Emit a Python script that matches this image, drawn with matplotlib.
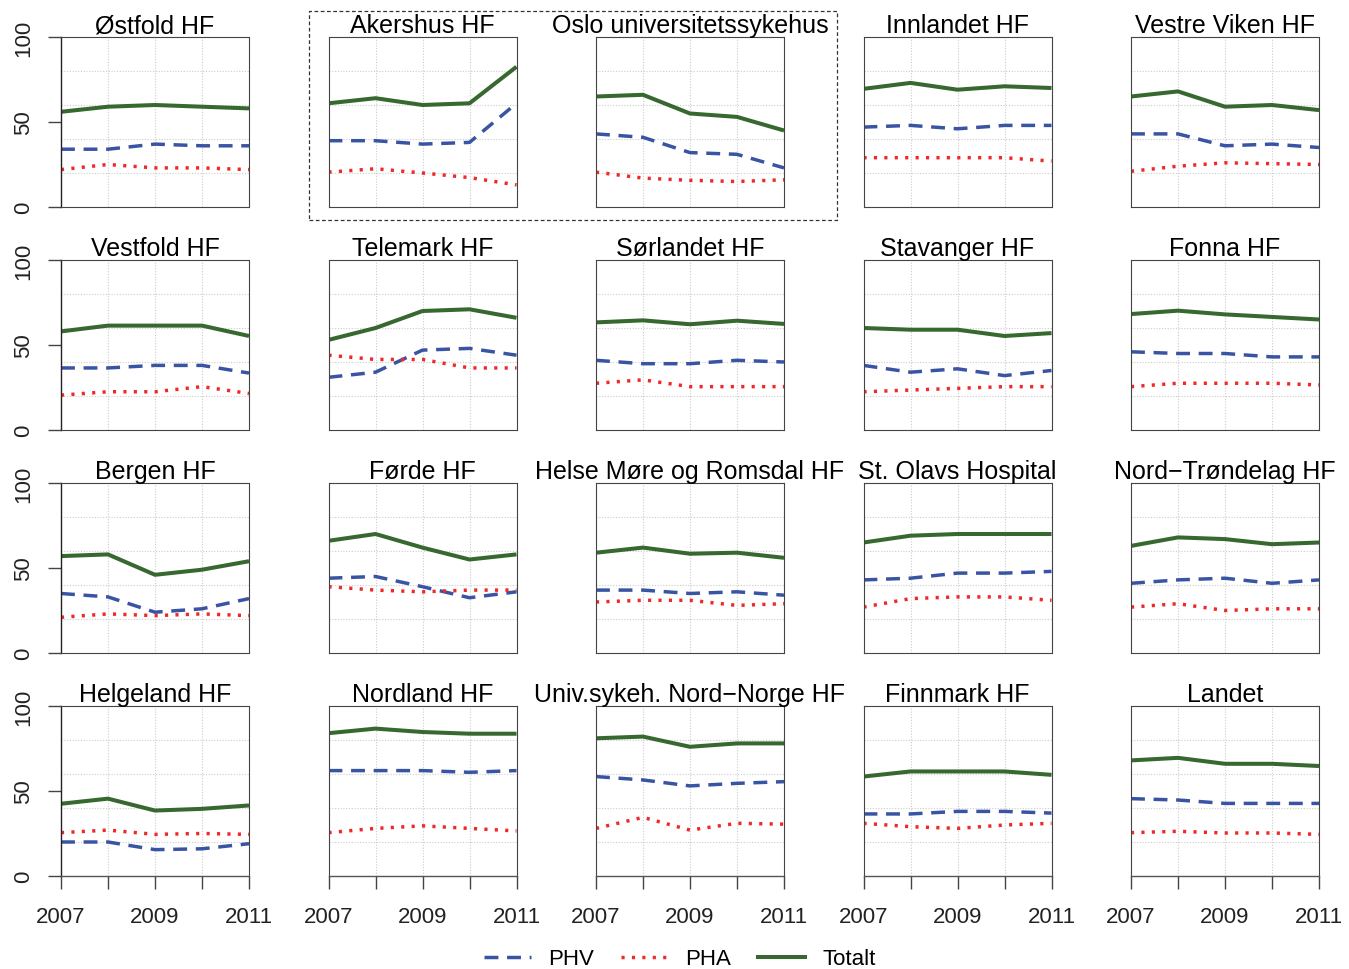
import matplotlib.pyplot as plt
from matplotlib.patches import Rectangle
from matplotlib.lines import Line2D

plt.rcParams['font.family'] = ['Liberation Sans', 'DejaVu Sans']

years = [2007, 2008, 2009, 2010, 2011]
year_labels = ['2007', '', '2009', '', '2011']

names = ['Østfold HF', 'Akershus HF', 'Oslo universitetssykehus', 'Innlandet HF', 'Vestre Viken HF',
         'Vestfold HF', 'Telemark HF', 'Sørlandet HF', 'Stavanger HF', 'Fonna HF',
         'Bergen HF', 'Førde HF', 'Helse Møre og Romsdal HF', 'St. Olavs Hospital', 'Nord−Trøndelag HF',
         'Helgeland HF', 'Nordland HF', 'Univ.sykeh. Nord−Norge HF', 'Finnmark HF', 'Landet']

phv = [[34, 34, 37, 36, 36], [39, 39, 37, 38, 61], [43, 41, 32, 31, 23], [47, 48, 46, 48, 48], [43, 43, 36, 37, 35],
       [36.5, 36.5, 38, 38, 33.5], [31, 34, 47, 48, 44], [41, 39, 39, 41, 40], [38, 34, 36, 32, 35], [46, 45, 45, 43, 43],
       [35, 33, 24, 26, 32], [44, 45, 39, 32.5, 36], [37, 37, 35, 36, 34], [43, 44, 47, 47, 48], [41, 43, 44, 41, 43],
       [20, 20, 15.5, 16, 19], [62, 62, 62, 61, 62], [58.5, 56.5, 53, 54.5, 55.5], [36.5, 36.5, 38, 38, 37], [45.5, 44.7, 42.7, 42.7, 42.7]]

pha = [[22, 25, 23, 23, 22], [20.5, 22.5, 20, 17.3, 13], [20.5, 17, 15.7, 15, 16], [29, 29, 29, 29, 27], [21, 24, 26, 25.5, 25],
       [20.5, 22.5, 22.5, 25.5, 21.5], [44, 41.5, 41.5, 36.5, 36.5], [27.5, 29.5, 25.5, 25.5, 25.5], [22.5, 23.5, 24.5, 25.5, 25.5], [25.5, 27.5, 27.5, 27.5, 26.5],
       [21, 23, 22, 23, 22], [39, 37, 36, 37, 37], [30, 31, 31, 28, 29], [27, 32, 33, 33, 31], [27, 29, 25, 26, 26],
       [25.5, 27, 24.5, 25, 24.5], [25.5, 28, 29.5, 28, 26.5], [28, 34.5, 27, 31, 30.5], [31, 29, 28, 30, 31], [25.5, 26.3, 25.3, 25.3, 24.5]]

totalt = [[56, 59, 60, 59, 58], [61, 64, 60, 61, 82.5], [65, 66, 55, 53, 45], [69.5, 73, 69, 71, 70], [65, 68, 59, 60, 57],
          [58, 61.4, 61.4, 61.4, 55.3], [53, 60, 70, 71, 66], [63.3, 64.5, 62.2, 64.3, 62.4], [60, 59, 59, 55.3, 57], [68.2, 70.2, 68, 66.5, 65],
          [57, 58, 46, 49, 54], [66, 70, 62, 55, 58], [59, 62, 58.4, 59, 56], [65, 69, 70, 70, 70], [63, 68, 67, 64, 65],
          [42.5, 45.5, 38.5, 39.5, 41.5], [84, 86.7, 84.7, 83.7, 83.7], [81, 82, 76, 78, 78], [58.5, 61.5, 61.5, 61.5, 59.5], [68, 69.5, 66, 66, 64.7]]

W, H = 1349, 970
fig = plt.figure(figsize=(W / 100, H / 100), dpi=100)

blue = '#3A54A4'
red = '#F02828'
green = '#36682F'
lw = 2.5

left0, col_step, pw = 61, 267.5, 188
top0, row_step, ph = 38, 223, 170

for i, name in enumerate(names):
    r, c = divmod(i, 5)
    x0 = left0 + c * col_step
    y0 = top0 + r * row_step
    ax = fig.add_axes([x0 / W, 1 - (y0 + ph) / H, pw / W, ph / H])
    ax.set_xlim(2007, 2011)
    ax.set_ylim(0, 100)

    for gx in [2008, 2009, 2010]:
        ax.axvline(gx, color='#cccccc', lw=0.8, ls=(0, (1, 1.5)), zorder=0)
    for gy in [20, 40, 60, 80]:
        ax.axhline(gy, color='#cccccc', lw=0.8, ls=(0, (1, 1.5)), zorder=0)

    ax.plot(years, phv[i], color=blue, lw=lw, dashes=(4, 2.5))
    ax.plot(years, pha[i], color=red, lw=lw, dashes=(0.9, 2.1))
    ax.plot(years, totalt[i], color=green, lw=lw + 0.4, solid_capstyle='butt')

    for sp in ax.spines.values():
        sp.set_linestyle((0, (1, 1)))
        sp.set_color('#444444')
        sp.set_linewidth(0.8)

    ax.set_title(name, fontsize=18, pad=3)

    if c == 0:
        ax.spines['left'].set_linestyle('-')
        ax.spines['left'].set_color('#222222')
        ax.spines['left'].set_linewidth(1.0)
        ax.set_yticks([0, 50, 100])
        ax.set_yticklabels(['0', '50', '100'], rotation=90, va='center', fontsize=16, color='#222222')
        ax.tick_params(axis='y', length=9.5, width=1.0, pad=10, color='#444444')
    else:
        ax.set_yticks([])

    if r == 3:
        ax.spines['bottom'].set_linestyle('-')
        ax.spines['bottom'].set_color('#555555')
        ax.spines['bottom'].set_linewidth(1.0)
        ax.set_xticks(years)
        ax.set_xticklabels(year_labels, fontsize=16, color='#222222')
        ax.tick_params(axis='x', length=9, width=1.0, pad=12.5, color='#444444')
    else:
        ax.set_xticks([])

# dashed frame around Akershus and Oslo
fig.patches.append(Rectangle((309 / W, 1 - 221 / H), (837 - 309) / W, (221 - 12) / H,
                             transform=fig.transFigure, fill=False, ls=(0, (3, 2)),
                             lw=0.9, edgecolor='#333333'))

handles = [Line2D([], [], color=blue, lw=lw, dashes=(4, 2.5)),
           Line2D([], [], color=red, lw=lw, dashes=(0.9, 2.1)),
           Line2D([], [], color=green, lw=lw + 0.4)]
fig.legend(handles, ['PHV', 'PHA', 'Totalt'], loc='center', bbox_to_anchor=(0.504, 0.0105),
           ncol=3, frameon=False, fontsize=16, handlelength=2.1, handletextpad=0.8,
           columnspacing=1.2)

fig.savefig('out.png', dpi=100)
